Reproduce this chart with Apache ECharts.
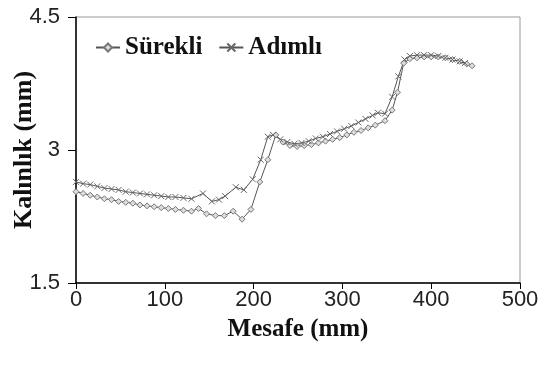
<!DOCTYPE html>
<html><head><meta charset="utf-8">
<script src="https://cdn.jsdelivr.net/npm/echarts@6/dist/echarts.min.js"></script>
<style>html,body{margin:0;padding:0;background:#fff}#c{width:541px;height:365px}</style>
</head><body><div id="c"></div>
<script>
var seriesNames = ['Sürekli', 'Adımlı'];
var xTicks = [0, 100, 200, 300, 400, 500];
var yTicks = [1.5, 3, 4.5];
var surekliX = [0,8,16,24,32,40,48,56,64,72,80,88,96,104,112,121,130,138,147,157,167,177,187,197,207,216,225,233,241,249,257,265,273,281,289,297,305,313,321,329,337,348,356,362,369,376,384,392,400,408,416,424,432,440,446];
var surekliY = [2.53,2.51,2.49,2.47,2.45,2.44,2.42,2.41,2.40,2.38,2.37,2.36,2.35,2.34,2.33,2.32,2.31,2.34,2.28,2.26,2.26,2.31,2.22,2.33,2.64,2.89,3.17,3.09,3.05,3.04,3.05,3.06,3.08,3.10,3.12,3.14,3.17,3.20,3.22,3.25,3.28,3.33,3.45,3.65,3.98,4.03,4.04,4.05,4.05,4.05,4.04,4.02,4.00,3.97,3.95];
var adimliX = [0,8,16,24,32,40,48,56,64,72,80,88,96,104,112,121,130,143,153,161,168,180,189,199,208,216,222,230,238,246,254,262,270,278,286,294,302,310,318,326,334,340,348,356,363,370,376,384,392,400,408,416,424,432,438];
var adimliY = [2.64,2.62,2.61,2.59,2.57,2.56,2.55,2.53,2.52,2.51,2.50,2.49,2.48,2.47,2.47,2.46,2.45,2.51,2.42,2.44,2.48,2.58,2.55,2.67,2.89,3.15,3.17,3.12,3.09,3.07,3.08,3.10,3.13,3.15,3.18,3.21,3.24,3.27,3.31,3.35,3.39,3.42,3.41,3.60,3.83,4.02,4.06,4.07,4.07,4.07,4.06,4.04,4.02,4.00,3.98];

function pairs(xs, ys) { return xs.map(function (x, i) { return [x, ys[i]]; }); }

var chart = echarts.init(document.getElementById('c'));
var serif = '"Liberation Serif", "Times New Roman", serif';
var sans = '"Liberation Sans", Arial, sans-serif';
chart.setOption({
  animation: false,
  grid: { left: 76, right: 21, top: 17, bottom: 82, containLabel: false, outerBoundsMode: 'none', show: true, borderColor: '#999', borderWidth: 1 },
  legend: {
    left: 90, top: 30, itemWidth: 24, itemHeight: 10, itemGap: 16,
    textStyle: { fontFamily: serif, fontWeight: 'bold', fontSize: 25, color: '#111' },
    data: seriesNames
  },
  xAxis: {
    type: 'value', min: xTicks[0], max: xTicks[xTicks.length - 1], interval: 100,
    name: 'Mesafe (mm)', nameLocation: 'middle', nameGap: 34, nameMoveOverlap: false,
    nameTextStyle: { fontFamily: serif, fontWeight: 'bold', fontSize: 25, color: '#111' },
    axisLine: { lineStyle: { color: '#000', width: 1.5 } },
    axisTick: { show: true, length: 6, lineStyle: { color: '#000' } },
    axisLabel: { fontFamily: sans, fontSize: 22, color: '#222', margin: 6 },
    splitLine: { show: false }
  },
  yAxis: {
    type: 'value', min: yTicks[0], max: yTicks[yTicks.length - 1], interval: 1.5,
    name: 'Kalınlık (mm)', nameLocation: 'middle', nameGap: 39, nameMoveOverlap: false,
    nameTextStyle: { fontFamily: serif, fontWeight: 'bold', fontSize: 26, color: '#111' },
    axisLine: { show: true, lineStyle: { color: '#000', width: 1.5 } },
    axisTick: { show: true, length: 8, lineStyle: { color: '#000' } },
    axisLabel: { fontFamily: sans, fontSize: 22, color: '#222', margin: 16 },
    splitLine: { show: false }
  },
  series: [
    {
      name: seriesNames[0], type: 'line', data: pairs(surekliX, surekliY),
      symbol: 'diamond', symbolSize: 6,
      lineStyle: { color: '#555', width: 1 },
      itemStyle: { color: '#ddd', borderColor: '#777', borderWidth: 1 }
    },
    {
      name: seriesNames[1], type: 'line', data: pairs(adimliX, adimliY),
      symbol: 'path://M0,0L10,10M10,0L0,10', symbolSize: 6,
      lineStyle: { color: '#555', width: 1 },
      itemStyle: { color: 'none', borderColor: '#666', borderWidth: 1 }
    }
  ]
});
</script></body></html>
